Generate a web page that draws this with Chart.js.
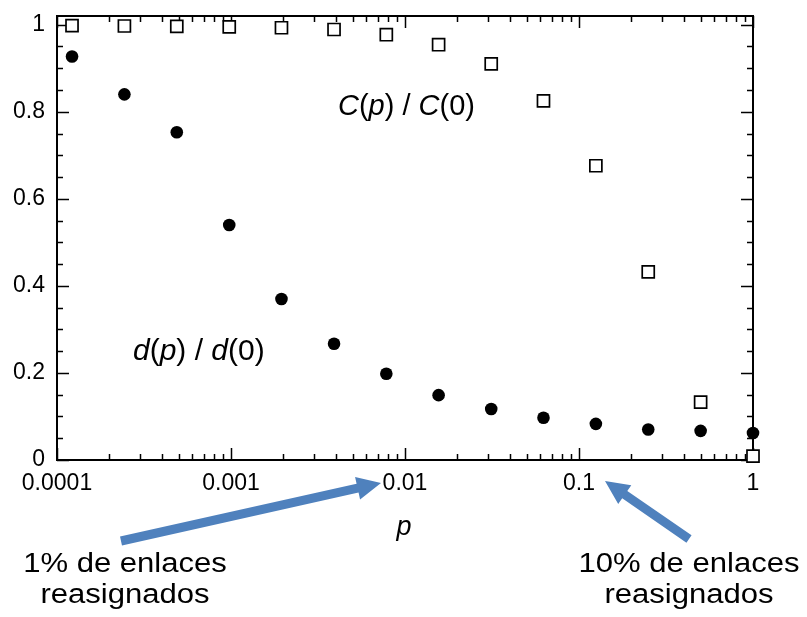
<!DOCTYPE html>
<html><head><meta charset="utf-8">
<script src="https://cdn.jsdelivr.net/npm/chart.js@4.4.0/dist/chart.umd.min.js"></script>
<style>html,body{margin:0;padding:0;background:#fff;}#wrap{width:807px;height:617px;}</style>
</head><body><div id="wrap"><canvas id="c" width="807" height="617"></canvas></div>
<script>
// Rewiring probability p (log scale)
const pValues = [0.000122, 0.000244, 0.000488, 0.000977, 0.00195, 0.00391, 0.00781, 0.0156, 0.0313, 0.0625, 0.125, 0.25, 0.5, 1];
// C(p)/C(0) : open squares
const clusteringValues = [0.998, 0.997, 0.996, 0.995, 0.993, 0.989, 0.977, 0.954, 0.910, 0.825, 0.676, 0.432, 0.133, 0.009];
// d(p)/d(0) : filled circles
const pathLengthValues = [0.927, 0.840, 0.753, 0.540, 0.370, 0.267, 0.198, 0.149, 0.117, 0.097, 0.083, 0.070, 0.067, 0.062];

const xTickValues = [0.0001, 0.001, 0.01, 0.1, 1];
const xTickLabels = ['0.0001', '0.001', '0.01', '0.1', '1'];
const yTickValues = [0, 0.2, 0.4, 0.6, 0.8, 1];
const yTickLabels = ['0', '0.2', '0.4', '0.6', '0.8', '1'];
const yMinorStep = 0.05;
const xAxisTitle = 'p';
const labelC = [['C', true], ['(', false], ['p', true], [') / ', false], ['C', true], ['(0)', false]];
const labelD = [['d', true], ['(', false], ['p', true], [') / ', false], ['d', true], ['(0)', false]];
const noteLeft = ['1% de enlaces', 'reasignados'];
const noteRight = ['10% de enlaces', 'reasignados'];

const FONT = '"Liberation Sans", Arial, Helvetica, sans-serif';
Chart.defaults.font.family = FONT;
Chart.defaults.color = '#000';

function drawRich(ctx, parts, x, y, size) {
  ctx.textBaseline = 'alphabetic';
  ctx.textAlign = 'left';
  for (const [t, it] of parts) {
    ctx.font = (it ? 'italic ' : '') + size + 'px ' + FONT;
    ctx.fillText(t, x, y);
    x += ctx.measureText(t).width;
  }
}

function arrow(ctx, x0, y0, x1, y1, w, hl, hw) {
  const ang = Math.atan2(y1 - y0, x1 - x0);
  const len = Math.hypot(x1 - x0, y1 - y0);
  ctx.save();
  ctx.translate(x0, y0); ctx.rotate(ang);
  ctx.beginPath();
  ctx.moveTo(0, -w / 2); ctx.lineTo(len - hl, -w / 2); ctx.lineTo(len - hl, -hw / 2);
  ctx.lineTo(len, 0); ctx.lineTo(len - hl, hw / 2); ctx.lineTo(len - hl, w / 2); ctx.lineTo(0, w / 2);
  ctx.closePath(); ctx.fill();
  ctx.restore();
}

const framePlugin = {
  id: 'frame',
  beforeDatasetsDraw(chart) {
    const { ctx, chartArea: a, scales: { x, y } } = chart;
    ctx.save();
    ctx.strokeStyle = '#000';
    ctx.lineWidth = 2;
    ctx.strokeRect(a.left, a.top, a.right - a.left, a.bottom - a.top);
    ctx.lineWidth = 1.5;
    ctx.beginPath();
    for (let v = 0; v <= 1.0001; v += yMinorStep) {
      const py = Math.round(y.getPixelForValue(v)) + 0.5;
      const major = Math.abs(v * 5 - Math.round(v * 5)) < 1e-6;
      const L = major ? 12 : 6;
      ctx.moveTo(a.left, py); ctx.lineTo(a.left + L, py);
      ctx.moveTo(a.right, py); ctx.lineTo(a.right - L, py);
    }
    for (let e = -4; e <= 0; e++) {
      for (let k = 1; k <= 9; k++) {
        const v = k * Math.pow(10, e);
        if (v > 1.0001) break;
        const px = Math.round(x.getPixelForValue(v)) + 0.5;
        const L = k === 1 ? 12 : 6;
        ctx.moveTo(px, a.bottom); ctx.lineTo(px, a.bottom - L);
        ctx.moveTo(px, a.top); ctx.lineTo(px, a.top + L);
      }
    }
    ctx.stroke();
    ctx.restore();
  },
  afterDraw(chart) {
    const { ctx } = chart;
    ctx.save();
    ctx.fillStyle = '#000';
    drawRich(ctx, labelC, 338, 115, 29);
    drawRich(ctx, labelD, 133, 360, 30);
    ctx.font = 'italic 27px ' + FONT;
    ctx.textAlign = 'center';
    ctx.fillText(xAxisTitle, 404, 535);
    ctx.font = '27px ' + FONT;
    ctx.textAlign = 'center';
    const sx = 1.15;
    const note = (lines, cx) => {
      ctx.save(); ctx.translate(cx, 0); ctx.scale(sx, 1);
      ctx.fillText(lines[0], 0, 572);
      ctx.fillText(lines[1], 0, 603);
      ctx.restore();
    };
    note(noteLeft, 125);
    note(noteRight, 689);
    ctx.fillStyle = '#4f81bd';
    arrow(ctx, 121, 541, 381, 483, 9, 24, 23);
    arrow(ctx, 689, 539, 605, 481, 9, 24, 23);
    ctx.restore();
  }
};

const data = {
  datasets: [
    {
      label: 'C(p)/C(0)',
      data: pValues.map((p, i) => ({ x: p, y: clusteringValues[i] })),
      pointStyle: 'rect', pointRadius: 8.5, pointHoverRadius: 8.5,
      backgroundColor: '#fff', borderColor: '#000', borderWidth: 1.7,
      showLine: false, clip: false
    },
    {
      label: 'd(p)/d(0)',
      data: pValues.map((p, i) => ({ x: p, y: pathLengthValues[i] })),
      pointStyle: 'circle', pointRadius: 6.3, pointHoverRadius: 6.3,
      backgroundColor: '#000', borderColor: '#000', borderWidth: 0,
      showLine: false, clip: false
    }
  ]
};

new Chart(document.getElementById('c'), {
  type: 'scatter',
  data,
  plugins: [framePlugin],
  options: {
    responsive: false, animation: false, devicePixelRatio: 1,
    layout: { padding: { left: 0, right: 54, top: 16, bottom: 0 } },
    plugins: { legend: { display: false }, tooltip: { enabled: false } },
    scales: {
      x: {
        type: 'logarithmic', min: 0.0001, max: 1,
        grid: { display: false, drawTicks: false }, border: { display: false },
        afterBuildTicks: s => { s.ticks = xTickValues.map(v => ({ value: v, major: true })); },
        afterFit: s => { s.height = 617 - 460; s.paddingLeft = 0; s.paddingRight = 0; },
        ticks: { autoSkip: false, maxRotation: 0, padding: 10, font: { size: 23 },
                 callback: (v, i) => xTickLabels[i] }
      },
      y: {
        min: 0, max: 1.02,
        grid: { display: false, drawTicks: false }, border: { display: false },
        afterBuildTicks: s => { s.ticks = yTickValues.map(v => ({ value: v })); },
        afterFit: s => { s.width = 57; s.paddingTop = 0; s.paddingBottom = 0; },
        ticks: { autoSkip: false, padding: 12, font: { size: 23 },
                 callback: (v, i) => yTickLabels[i] }
      }
    }
  }
});
</script></body></html>
